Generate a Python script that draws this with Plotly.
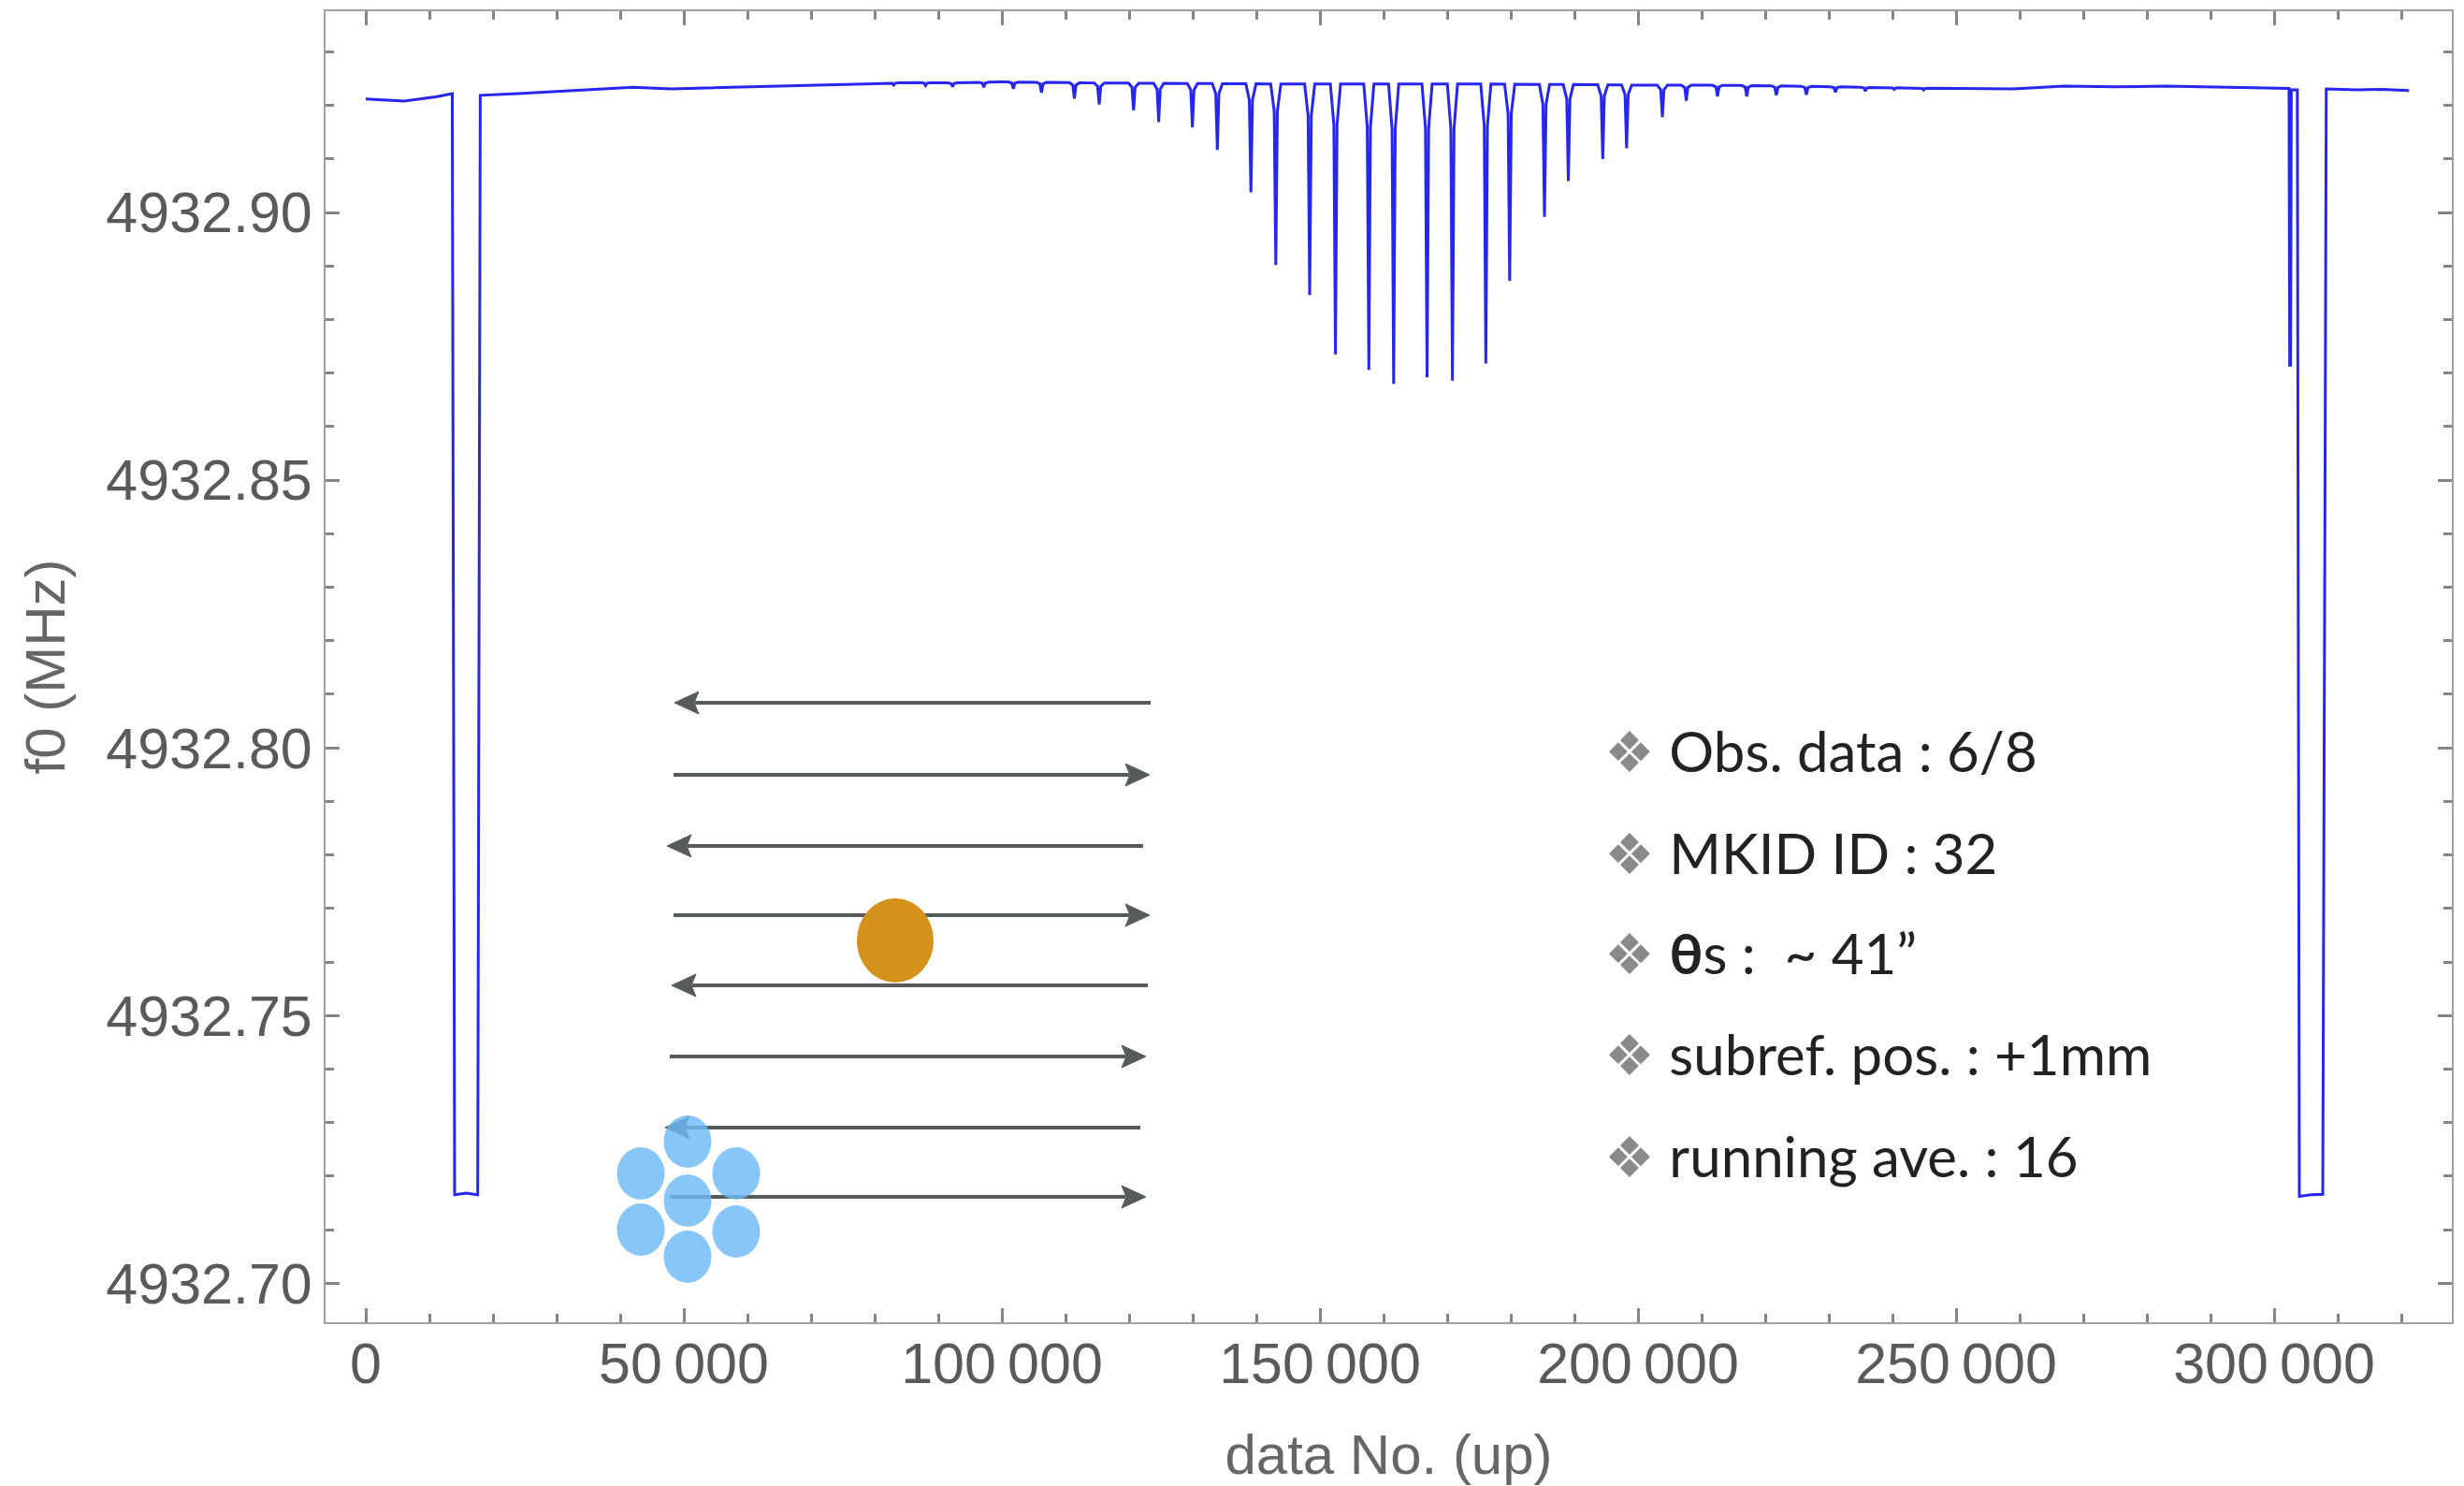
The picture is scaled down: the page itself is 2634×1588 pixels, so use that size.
import numpy as np
import plotly.graph_objects as go

# ---------------- data ----------------
# slowly varying baseline of the resonance frequency (data No., f0 / MHz)
base_x = [0, 6000, 11000, 13300, 18000, 24000, 30000, 36000, 42000, 48000, 55000, 62000,
          71000, 78000, 85000, 92000, 100000, 115000, 130000, 145000, 160000, 175000,
          190000, 200000, 210000, 220000, 230000, 240000, 250000, 259000, 267000, 275000,
          283000, 291000, 298000, 302200, 308200, 313000, 317000, 321200]
base_f0 = [4932.9212, 4932.9208, 4932.9216, 4932.9222, 4932.9219, 4932.9222, 4932.9226, 4932.9229,
           4932.9234, 4932.9231, 4932.9233, 4932.9236, 4932.9238, 4932.9240, 4932.9243, 4932.9242,
           4932.9244, 4932.9242, 4932.9241, 4932.9240, 4932.9240, 4932.9240, 4932.9239, 4932.9238,
           4932.9238, 4932.9237, 4932.9235, 4932.9233, 4932.9232, 4932.9231, 4932.9236, 4932.9235,
           4932.9236, 4932.9234, 4932.9233, 4932.9232, 4932.9231, 4932.9229, 4932.9230, 4932.9228]

# raster-scan source crossings: dip centre (data No.) and dip minimum (MHz)
dip_x = [83000, 88000, 92250, 97160, 101800, 106220, 111400, 115300, 120700, 124650,
         129950, 133870, 139150, 143060, 148390, 152440, 157690, 161590, 166840, 170830,
         176080, 179830, 185300, 189050, 194460, 198210, 203830, 207590, 212500, 217100,
         221750, 226470, 231040, 235740, 240300, 244900]
dip_f0 = [4932.9238, 4932.9237, 4932.9235, 4932.9234, 4932.9231, 4932.9224, 4932.9213, 4932.9202,
          4932.9191, 4932.9169, 4932.9159, 4932.9117, 4932.9038, 4932.8902, 4932.8846, 4932.8735,
          4932.8706, 4932.8680, 4932.8692, 4932.8686, 4932.8718, 4932.8872, 4932.8992, 4932.9059,
          4932.9100, 4932.9120, 4932.9178, 4932.9209, 4932.9217, 4932.9217, 4932.9219, 4932.9220,
          4932.9225, 4932.9227, 4932.9230, 4932.9229]

# calibration / load segments at both ends of the scan
cal_x = [13600, 13970, 15800, 17600, 18000,
         302350, 302450, 302600, 302700, 303650, 303970, 305800, 307650, 308100]
cal_f0 = [4932.9222, 4932.7165, 4932.7168, 4932.7165, 4932.9219,
          4932.9232, 4932.8715, 4932.8715, 4932.9229, 4932.9229, 4932.7162, 4932.7165, 4932.7166, 4932.9231]

x_tick_vals = [0, 50000, 100000, 150000, 200000, 250000, 300000]
x_tick_text = ["0", "50\u2009000", "100\u2009000", "150\u2009000", "200\u2009000", "250\u2009000", "300\u2009000"]
y_tick_vals = [4932.70, 4932.75, 4932.80, 4932.85, 4932.90]
y_tick_text = ["4932.70", "4932.75", "4932.80", "4932.85", "4932.90"]

info_lines = ["Obs. data : 6/8", "MKID ID : 32", "<b>θ</b>s :  ~ 41”",
              "subref. pos. : +1mm", "running ave. : 16"]

# ---------------- build the polyline ----------------
prof_off = [-800, -250, 0, 250, 800]
prof_frac = [0.0, 0.15, 1.0, 0.15, 0.0]
pts = []
dip_ranges = [(c - 900, c + 900) for c in dip_x]
cal_ranges = [(13600, 18000), (302350, 308100)]
for xb, fb in zip(base_x, base_f0):
    if any(a <= xb <= b for a, b in dip_ranges):
        continue
    if any(a <= xb <= b for a, b in cal_ranges):
        continue
    pts.append((xb, fb))
for c, m in zip(dip_x, dip_f0):
    for o, fr in zip(prof_off, prof_frac):
        b = float(np.interp(c + o, base_x, base_f0))
        pts.append((c + o, b - fr * (b - m)))
for xc, fc in zip(cal_x, cal_f0):
    pts.append((xc, fc))
pts.sort(key=lambda p: p[0])
line_x = [p[0] for p in pts]
line_f0 = [p[1] for p in pts]

# ---------------- figure ----------------
FW, FH = 2634, 1588
L, R, T, B = 348, 2621, 12, 1413
W, H = R - L, B - T
X_RANGE = [-6324, 327941]
Y_RANGE = [4932.6927, 4932.9376]


def px(xp):
    return (xp - L) / W


def py(yp):
    return (B - yp) / H


fig = go.Figure()
fig.add_trace(go.Scatter(x=line_x, y=line_f0, mode="lines",
                         line=dict(color="#2626ee", width=3), hoverinfo="skip", showlegend=False))
# empty trace that activates the mirrored (top/right) tick axes
fig.add_trace(go.Scatter(x=[None], y=[None], xaxis="x2", yaxis="y2", mode="lines",
                         hoverinfo="skip", showlegend=False))

axis_col = "#a0a0a0"
tick_col = "#858585"
tick_font = dict(family="Liberation Sans, Arial, sans-serif", size=61, color="#5a5a5a")
title_font = dict(family="Liberation Sans, Arial, sans-serif", size=60, color="#666666")

shapes = []
# scan arrows
arrow_rows = [(751, 1230, 721), (828, 720, 1229), (904, 1222, 713), (978, 720, 1229),
              (1053, 1227, 718), (1129, 716, 1225), (1205, 1219, 711), (1279, 716, 1225)]
acol = "#565b5b"
for yy, tail, tip in arrow_rows:
    d = 1 if tip > tail else -1
    back = tip - d * 26
    shapes.append(dict(type="line", xref="paper", yref="paper",
                       x0=px(tail), x1=px(back + d * 4), y0=py(yy), y1=py(yy),
                       line=dict(color=acol, width=4)))
    path = "M {:.5f} {:.5f} L {:.5f} {:.5f} L {:.5f} {:.5f} L {:.5f} {:.5f} Z".format(
        px(tip), py(yy), px(back), py(yy - 12), px(back + d * 5), py(yy), px(back), py(yy + 12))
    shapes.append(dict(type="path", xref="paper", yref="paper", path=path,
                       fillcolor=acol, line=dict(color=acol, width=1)))

# source (orange) and beam pattern (blue)
shapes.append(dict(type="circle", xref="paper", yref="paper",
                   x0=px(957 - 41), x1=px(957 + 41), y0=py(1005 + 45), y1=py(1005 - 45),
                   fillcolor="#D5921B", line=dict(width=0)))
beams = [(735, 1220), (685, 1254), (787, 1254), (735, 1283), (685, 1314), (787, 1316), (735, 1343)]
for cx, cy in beams:
    shapes.append(dict(type="circle", xref="paper", yref="paper",
                       x0=px(cx - 25.5), x1=px(cx + 25.5), y0=py(cy + 28), y1=py(cy - 28),
                       fillcolor="rgba(110,185,245,0.82)", line=dict(width=0)))

annotations = []
info_y = [802, 911, 1018, 1126, 1235]
for txt, yy in zip(info_lines, info_y):
    annotations.append(dict(xref="paper", yref="paper", x=px(1713), y=py(yy),
                            xanchor="left", yanchor="middle", showarrow=False,
                            text="<span style='color:#8a8a8a'>❖</span> " + txt,
                            font=dict(family="Lato, Open Sans, sans-serif", size=60, color="#222222")))

common_x = dict(range=X_RANGE, tickmode="array", tickvals=x_tick_vals,
                ticks="inside", ticklen=15, tickwidth=2.5, tickcolor=tick_col,
                showline=True, linecolor=axis_col, linewidth=2,
                showgrid=False, zeroline=False, automargin=False,
                minor=dict(tickmode="linear", tick0=0, dtick=10000, ticks="inside", ticklen=9,
                           tickwidth=2.5, tickcolor=tick_col, showgrid=False))
common_y = dict(range=Y_RANGE, tickmode="array", tickvals=y_tick_vals,
                ticks="inside", ticklen=15, tickwidth=2.5, tickcolor=tick_col,
                showline=True, linecolor=axis_col, linewidth=2,
                showgrid=False, zeroline=False, automargin=False,
                minor=dict(tickmode="linear", tick0=4932.70, dtick=0.01, ticks="inside", ticklen=9,
                           tickwidth=2.5, tickcolor=tick_col, showgrid=False))

fig.update_layout(
    width=FW, height=FH,
    margin=dict(l=L, r=FW - R, t=T, b=FH - B, pad=0),
    paper_bgcolor="white", plot_bgcolor="white", showlegend=False,
    shapes=shapes, annotations=annotations,
    xaxis=dict(**common_x, ticktext=x_tick_text, tickfont=tick_font, ticklabelstandoff=-10,
               title=dict(text="data No. (up)", standoff=56, font=title_font)),
    yaxis=dict(**common_y, ticktext=y_tick_text, tickfont=tick_font, ticklabelstandoff=0,
               title=dict(text="f0 (MHz)", standoff=24, font=title_font)),
    xaxis2=dict(**common_x, overlaying="x", side="top", anchor="y", showticklabels=False),
    yaxis2=dict(**common_y, overlaying="y", side="right", anchor="x", showticklabels=False),
)

fig.write_html("out.html")
